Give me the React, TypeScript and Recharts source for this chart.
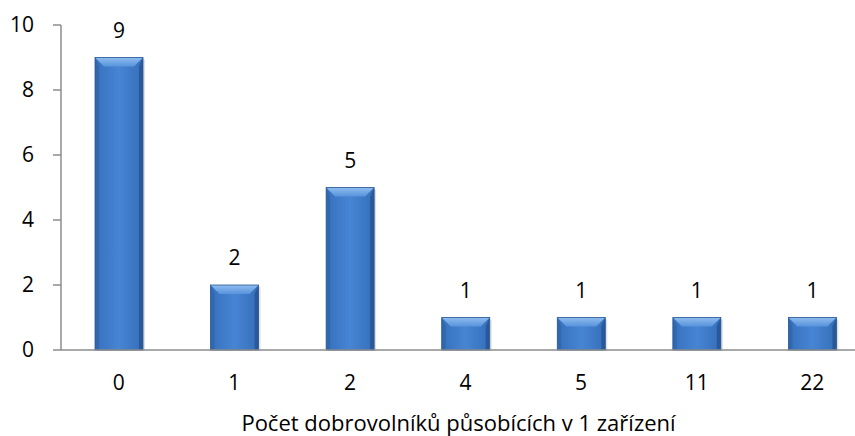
import React from 'react';
import { BarChart, Bar, XAxis, YAxis, LabelList, Label } from 'recharts';

const categories = ['0', '1', '2', '4', '5', '11', '22'];
const counts = [9, 2, 5, 1, 1, 1, 1];
const yTicks = [0, 2, 4, 6, 8, 10];
const axisTitle = 'Počet dobrovolníků působících v 1 zařízení';

const data = categories.map((c, i) => ({ name: c, value: counts[i] }));

const FONT = '"Open Sans", Carlito, Calibri, sans-serif';

// Excel-like bevelled bar
const BevelBar = (props: any) => {
  const { x, y, width, height } = props;
  if (!height || height <= 0) return null;
  const b = Math.min(9, height / 2);
  const s = 4;
  return (
    <g>
      <rect x={x + 2} y={y + 2} width={width} height={height - 1} fill="#000" opacity={0.12} />
      <rect x={x} y={y} width={width} height={height} fill="url(#barBody)" />
      <polygon
        points={`${x},${y} ${x + width},${y} ${x + width - b},${y + b} ${x + b},${y + b}`}
        fill="url(#barTop)"
      />
      <polygon
        points={`${x},${y} ${x + s},${y + b} ${x + s},${y + height} ${x},${y + height}`}
        fill="#2c5e9f"
        opacity={0.55}
      />
      <polygon
        points={`${x + width},${y} ${x + width - s},${y + b} ${x + width - s},${y + height} ${x + width},${y + height}`}
        fill="#1f4a82"
        opacity={0.6}
      />
      <rect x={x} y={y} width={width} height={height} fill="none" stroke="#2a5996" strokeWidth={0.8} />
    </g>
  );
};

const AxisTitle = (props: any) => {
  const vb = props.viewBox || {};
  return (
    <text
      x={vb.x + vb.width / 2 - 7}
      y={vb.y + 81}
      textAnchor="middle"
      fill="#000"
      fontSize={22}
      fontFamily={FONT}
    >
      {axisTitle}
    </text>
  );
};

export default function App() {
  return (
    <div
      style={{
        position: 'fixed',
        top: 0,
        left: 0,
        width: 855,
        height: 436,
        overflow: 'hidden',
        background: '#fff',
      }}
    >
      <BarChart
        width={870}
        height={436}
        data={data}
        margin={{ top: 25, right: 0, bottom: 0, left: 0 }}
        barCategoryGap={34}
        style={{ fontFamily: FONT }}
      >
        <defs>
          <linearGradient id="barBody" x1="0" y1="0" x2="1" y2="0">
            <stop offset="0%" stopColor="#3671bd" />
            <stop offset="50%" stopColor="#4784d3" />
            <stop offset="100%" stopColor="#356fba" />
          </linearGradient>
          <linearGradient id="barTop" x1="0" y1="0" x2="0" y2="1">
            <stop offset="0%" stopColor="#8fbcef" />
            <stop offset="100%" stopColor="#5893dc" />
          </linearGradient>
        </defs>
        <YAxis
          width={61}
          domain={[0, 10]}
          ticks={yTicks}
          interval={0}
          tickSize={8}
          tickMargin={19}
          axisLine={{ stroke: '#8c8c8c', strokeWidth: 1.5 }}
          tickLine={{ stroke: '#8c8c8c', strokeWidth: 1.5 }}
          tick={{ fill: '#000', fontSize: 21, fontFamily: FONT }}
        />
        <XAxis
          dataKey="name"
          interval={0}
          tickLine={false}
          tickSize={0}
          tickMargin={25}
          axisLine={{ stroke: '#8c8c8c', strokeWidth: 1.5 }}
          tick={{ fill: '#000', fontSize: 21, fontFamily: FONT }}
          height={86}
        >
          <Label content={<AxisTitle />} />
        </XAxis>
        <Bar dataKey="value" shape={<BevelBar />} isAnimationActive={false}>
          <LabelList
            dataKey="value"
            position="top"
            offset={20}
            fill="#000"
            fontSize={21}
            fontFamily={FONT}
          />
        </Bar>
      </BarChart>
    </div>
  );
}
